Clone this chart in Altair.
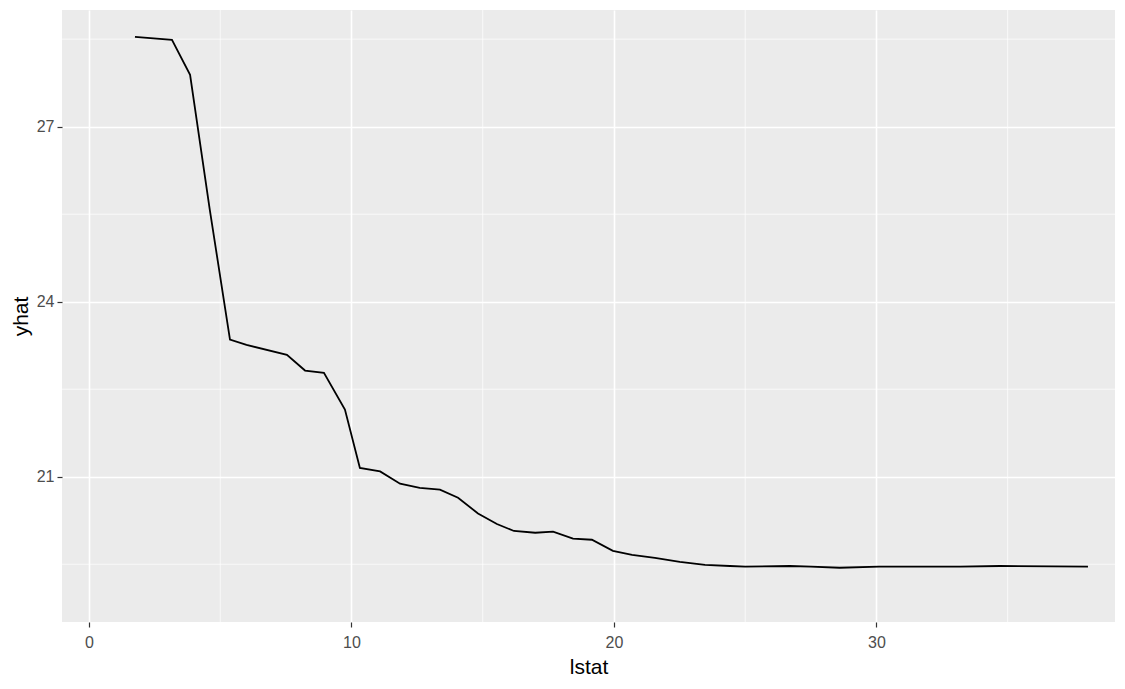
import pandas as pd
import altair as alt

lstat = [1.75, 3.16, 3.85, 4.6, 5.37, 6.0, 7.54, 8.23, 8.95, 9.75, 10.32, 11.09, 11.85,
         12.6, 13.37, 14.06, 14.82, 15.54, 16.19, 17.0, 17.68, 18.44, 19.16, 19.96,
         20.69, 21.56, 22.51, 23.47, 24.42, 25.0, 26.7, 27.5, 28.6, 30.1, 33.2, 34.7, 38.06]
yhat = [28.54, 28.49, 27.89, 25.58, 23.35, 23.26, 23.09, 22.82, 22.78, 22.15, 21.15, 21.09,
        20.88, 20.81, 20.78, 20.64, 20.37, 20.19, 20.07, 20.04, 20.06, 19.94, 19.92,
        19.73, 19.66, 19.61, 19.54, 19.49, 19.47, 19.46, 19.47, 19.46, 19.44, 19.46,
        19.46, 19.47, 19.46]
minor_x = [5, 15, 25, 35]
minor_y = [19.5, 22.5, 25.5, 28.5]

df = pd.DataFrame({"lstat": lstat, "yhat": yhat})
xs = alt.Scale(domain=[-1.03, 39.09], nice=False, zero=False)
ys = alt.Scale(domain=[18.51, 29.0], nice=False, zero=False)
x_axis = alt.Axis(values=[0, 10, 20, 30], format="d", labelPadding=7, titlePadding=6)
y_axis = alt.Axis(values=[21, 24, 27], format="d")

mx = alt.Chart(pd.DataFrame({"v": minor_x})).mark_rule(color="white", strokeWidth=0.7).encode(
    x=alt.X("v:Q", scale=xs, axis=x_axis, title="lstat"))
my = alt.Chart(pd.DataFrame({"v": minor_y})).mark_rule(color="white", strokeWidth=0.7).encode(
    y=alt.Y("v:Q", scale=ys, axis=y_axis, title="yhat"))

line = alt.Chart(df).mark_line(color="black", strokeWidth=1.8).encode(
    x=alt.X("lstat:Q", scale=xs, title="lstat", axis=x_axis),
    y=alt.Y("yhat:Q", scale=ys, title="yhat", axis=y_axis),
)

chart = (mx + my + line).properties(
    width=1053, height=612,
    autosize=alt.AutoSizeParams(type="none"),
    padding={"left": 54, "top": 2, "right": 2, "bottom": 60},
).configure_view(fill="#EBEBEB", stroke=None).configure_axis(
    domain=False, gridColor="white", gridWidth=1.6, tickColor="#333333", tickSize=5,
    tickWidth=1.2, labelColor="#4D4D4D", labelFontSize=16, labelFont="Liberation Sans",
    titleFont="Liberation Sans", titleFontSize=21, titleFontWeight="normal", titleColor="black",
    labelPadding=3,
).configure_axisY(titlePadding=5)

chart.save("out.html", embed_options={"renderer": "svg", "actions": False})
